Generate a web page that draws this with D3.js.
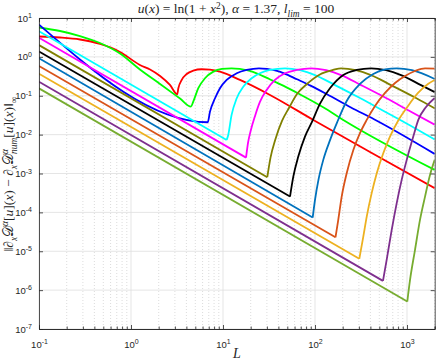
<!DOCTYPE html>
<html>
<head>
<meta charset="utf-8">
<script src="https://cdn.jsdelivr.net/npm/d3@7"></script>
<style>
  body { margin: 0; background: #fff; }
  text { fill: #262626; }
</style>
</head>
<body>
<svg id="chart" width="436" height="360"></svg>
<script>
// [L, error] pairs, one array per curve
var curveRed = [[0.1,3.34],[0.169,3.15],[0.279,2.80],[0.46,2.15],[0.759,1.34],[1.25,0.619],[1.61,0.474],[2.07,0.323],[2.65,0.19],[3.18,0.109],
  [3.27,0.156],[3.56,0.255],[4.03,0.363],[4.75,0.442],[5.86,0.48],[7.22,0.469],[9.27,0.417],[15.3,0.255],[32.4,0.105],[95.9,0.0239],[396,3.59e-3],[2000,4.2e-4]];
var curveGreen = [[0.1,5.70],[0.169,4.63],[0.279,3.44],[0.46,2.28],[0.759,1.22],[1.25,0.474],[2.07,0.201],[3.41,0.0847],[4.49,0.0525],
  [4.75,0.0705],[5.39,0.156],[6.37,0.282],[7.85,0.417],[9.75,0.489],[12.4,0.509],[15.2,0.489],[19.5,0.434],[23.2,0.378],[32.2,0.265],[45.7,0.179],[68.2,0.109],[124,0.0498],[203,0.0239],[2000,1.24e-3]];
var curveBlue = [[0.1,6.76],[6.82,0.0208],[7.22,0.039],[8.19,0.0863],[9.27,0.156],[10.96,0.255],[14.1,0.378],[18.1,0.46],[24.6,0.509],
  [30.1,0.489],[38.6,0.434],[46,0.378],[63.7,0.265],[90.5,0.179],[135,0.109],[246,0.0498],[438,0.0249],[2000,3.19e-3]];
var curveCyan = [[0.1,4.55],[10.96,7.31e-3],[11.4,9.82e-3],[12.4,0.0321],[14.1,0.0863],[16.6,0.171],[20.5,0.282],[25.2,0.378],[32.4,0.46],[47.2,0.509],
  [68.7,0.453],[100,0.34],[165,0.188],[308,0.0873],[577,0.0388],[1222,0.0146],[2000,7.48e-3]];
var curveMagenta = [[0.1,3.10],[17.8,2.56e-3],[18.7,6.12e-3],[20.1,0.0132],[22.3,0.0303],[25.2,0.0693],[29.8,0.141],[36.7,0.255],[47.2,0.378],[63.2,0.46],[90.5,0.509],
  [132,0.453],[192,0.34],[316,0.188],[592,0.0873],[1104,0.0388],[2000,0.018]];
var curveOlive = [[0.1,2.01],[30.3,8.04e-4],[32.8,2.52e-3],[37.2,7.75e-3],[43.8,0.0225],[52.1,0.0485],[63.7,0.111],[81.8,0.201],[113,0.353],[157,0.46],[192,0.509],
  [279,0.453],[406,0.34],[670,0.188],[1253,0.0873],[2000,0.0474]];
var curveBlack = [[0.1,1.38],[53.5,2.55e-4],[58.1,8.32e-4],[65.8,2.72e-3],[77.8,8.89e-3],[92.7,0.0212],[113,0.0615],[146,0.158],[203,0.343],[284,0.46],[406,0.509],
  [592,0.453],[861,0.34],[1419,0.188],[2000,0.124]];
var curveBlue2 = [[0.1,0.92],[94.4,7.35e-5],[100,2.09e-4],[109,6.84e-4],[123,2.24e-3],[146,7.31e-3],[173,0.02],[221,0.0735],[308,0.201],[430,0.363],[577,0.474],[778,0.509],
  [1132,0.453],[2000,0.27]];
var curveOrangeRed = [[0.1,0.58],[167,2.28e-5],[179,6.41e-5],[195,2.55e-4],[221,1.02e-3],[261,4.04e-3],[308,0.0109],[365,0.0239],[449,0.0547],[577,0.118],[741,0.213],
  [951,0.323],[1222,0.434],[1570,0.509],[2000,0.5]];
var curveOrange = [[0.1,0.368],[303,6.38e-6],[335,2.39e-5],[365,7.8e-5],[413,3.12e-4],[469,1.02e-3],[552,3.33e-3],[653,8.89e-3],[798,0.0225],[1026,0.0547],[1318,0.118],
  [1690,0.201],[2000,0.255]];
var curvePurple = [[0.1,0.23],[548,1.73e-6],[601,6.01e-6],[682,3.55e-5],[773,1.73e-4],[875,6.84e-4],[993,2.24e-3],[1170,8.89e-3],[1327,0.0239],[1611,0.0515],[2000,0.0877]];
var curveGreen2 = [[0.1,0.155],[1007,5.09e-7],[1079,1.84e-6],[1222,1.09e-5],[1384,6.41e-5],[1570,2.55e-4],[1778,9.2e-4],[2000,2.24e-3]];

var curves = [curveRed, curveGreen, curveBlue, curveCyan, curveMagenta, curveOlive, curveBlack,
              curveBlue2, curveOrangeRed, curveOrange, curvePurple, curveGreen2];
var curveColors = ["#ff0000", "#00ff00", "#0000ff", "#00ffff", "#ff00ff", "#808000", "#000000",
                   "#0072bd", "#d95319", "#edb120", "#7e2f8e", "#77ac30"];

var xMajor = [0.1, 1, 10, 100, 1000];
var yMajor = [1e-7, 1e-6, 1e-5, 1e-4, 1e-3, 1e-2, 1e-1, 1, 10];

var svg = d3.select("#chart");
var pL = 39, pR = 434.7, pT = 18, pB = 329;

var x = d3.scaleLog().domain([0.1, 2000]).range([pL, pR]);
var y = d3.scaleLog().domain([1e-7, 10]).range([pB, pT]);

var xMinor = [];
xMajor.forEach(function(d) {
  for (var k = 2; k <= 9; k++) if (d * k <= 2000) xMinor.push(d * k);
});

// grid
var grid = svg.append("g");
grid.selectAll(".gx").data(xMinor).enter().append("line")
    .attr("x1", function(d) { return x(d); }).attr("x2", function(d) { return x(d); })
    .attr("y1", pT).attr("y2", pB)
    .attr("stroke", "#c4c4c4").attr("stroke-width", 0.6).attr("stroke-dasharray", "1,2");
grid.selectAll(".gX").data(xMajor).enter().append("line")
    .attr("x1", function(d) { return x(d); }).attr("x2", function(d) { return x(d); })
    .attr("y1", pT).attr("y2", pB)
    .attr("stroke", "#dedede").attr("stroke-width", 0.8);
grid.selectAll(".gY").data(yMajor).enter().append("line")
    .attr("x1", pL).attr("x2", pR)
    .attr("y1", function(d) { return y(d); }).attr("y2", function(d) { return y(d); })
    .attr("stroke", "#dedede").attr("stroke-width", 0.8);

svg.append("clipPath").attr("id", "plotclip").append("rect")
    .attr("x", pL).attr("y", pT).attr("width", pR - pL).attr("height", pB - pT);

// each curve drawn as falling part + rising part so the cusp stays sharp
var line = d3.line()
    .x(function(d) { return x(d[0]); })
    .y(function(d) { return y(d[1]); })
    .curve(d3.curveMonotoneX);

var plot = svg.append("g").attr("clip-path", "url(#plotclip)");
curves.forEach(function(pts, i) {
  var m = d3.minIndex(pts, function(d) { return d[1]; });
  [pts.slice(0, m + 1), pts.slice(m)].forEach(function(seg) {
    plot.append("path")
        .attr("d", line(seg))
        .attr("fill", "none")
        .attr("stroke", curveColors[i])
        .attr("stroke-width", 1.8)
        .attr("stroke-linejoin", "round");
  });
});

// axes
function powLabels(g) {
  g.selectAll(".tick text").each(function(d) {
    var t = d3.select(this).text(null);
    t.append("tspan").text("10");
    t.append("tspan").attr("dy", "-0.5em").attr("font-size", "7px")
        .text(Math.round(Math.log10(d)));
  });
}
function styleAxis(g) {
  g.select(".domain").attr("stroke", "#262626").attr("stroke-width", 0.8);
  g.selectAll(".tick line").attr("stroke", "#262626").attr("stroke-width", 0.8);
  g.selectAll("text").attr("font-family", "Liberation Sans, Arial, sans-serif")
      .attr("font-size", "9.5px").attr("fill", "#262626");
}

svg.append("g").attr("transform", "translate(0," + pB + ")")
    .call(d3.axisBottom(x).tickValues(xMinor).tickSize(-2.5).tickFormat(""))
    .call(styleAxis);
svg.append("g").attr("transform", "translate(0," + pB + ")")
    .call(d3.axisBottom(x).tickValues(xMajor).tickSize(-4).tickSizeOuter(0).tickPadding(12))
    .call(powLabels).call(styleAxis);
svg.append("g").attr("transform", "translate(0," + pT + ")")
    .call(d3.axisTop(x).tickValues(xMinor).tickSize(-2.5).tickFormat(""))
    .call(styleAxis);
svg.append("g").attr("transform", "translate(0," + pT + ")")
    .call(d3.axisTop(x).tickValues(xMajor).tickSize(-4).tickSizeOuter(0).tickFormat(""))
    .call(styleAxis);
svg.append("g").attr("transform", "translate(" + pL + ",0)")
    .call(d3.axisLeft(y).tickValues(yMajor).tickSize(-4).tickSizeOuter(0).tickPadding(7))
    .call(powLabels).call(styleAxis);
svg.append("g").attr("transform", "translate(" + pR + ",0)")
    .call(d3.axisRight(y).tickValues(yMajor).tickSize(-4).tickSizeOuter(0).tickFormat(""))
    .call(styleAxis);

// math-ish text helper: parts with italic / sup / sub
function rich(t, parts, size, supShift) {
  var shift = 0;
  parts.forEach(function(p) {
    var ts = t.append("tspan").text(p.t);
    var target = p.sup ? -supShift * size : (p.sub ? 0.28 * size : 0);
    if (target !== shift) { ts.attr("dy", target - shift); shift = target; }
    if (p.sup || p.sub) ts.attr("font-size", size * 0.7);
    if (p.i) ts.style("font-style", "italic");
    if (p.dx) ts.attr("dx", p.dx);
  });
}

var serif = "Liberation Serif, Times New Roman, serif";

var title = svg.append("text").attr("x", 236).attr("y", 13)
    .attr("text-anchor", "middle").attr("font-family", serif).attr("font-size", 13.5);
rich(title, [{t: "u", i: 1}, {t: "("}, {t: "x", i: 1}, {t: ") = ln(1 + "}, {t: "x", i: 1}, {t: "2", sup: 1},
             {t: "), "}, {t: "α", i: 1}, {t: " = 1.37, "}, {t: "l", i: 1}, {t: "lim", i: 1, sub: 1}, {t: " = 100"}], 13.5, 0.32);

svg.append("text").attr("x", 237).attr("y", 358)
    .attr("text-anchor", "middle").attr("font-family", serif).attr("font-size", 14)
    .style("font-style", "italic").text("L");

var ylab = svg.append("text").attr("transform", "translate(13,174) rotate(-90)")
    .attr("text-anchor", "middle").attr("font-family", serif).attr("font-size", 13.5);
rich(ylab, [{t: "‖∂"}, {t: "x", i: 1, sub: 1}, {t: "𝒟"}, {t: "α", i: 1, sup: 1}, {t: "["}, {t: "u", i: 1}, {t: "]("},
            {t: "x", i: 1}, {t: ") − ∂"}, {t: "x", i: 1, sub: 1}, {t: "𝒟"}, {t: "α", i: 1, sup: 1},
            {t: "num", i: 1, sub: 1, dx: -5}, {t: "["}, {t: "u", i: 1}, {t: "]("}, {t: "x", i: 1}, {t: ")‖"},
            {t: "∞", sub: 1}], 13.5, 0.4);
</script>
</body>
</html>
